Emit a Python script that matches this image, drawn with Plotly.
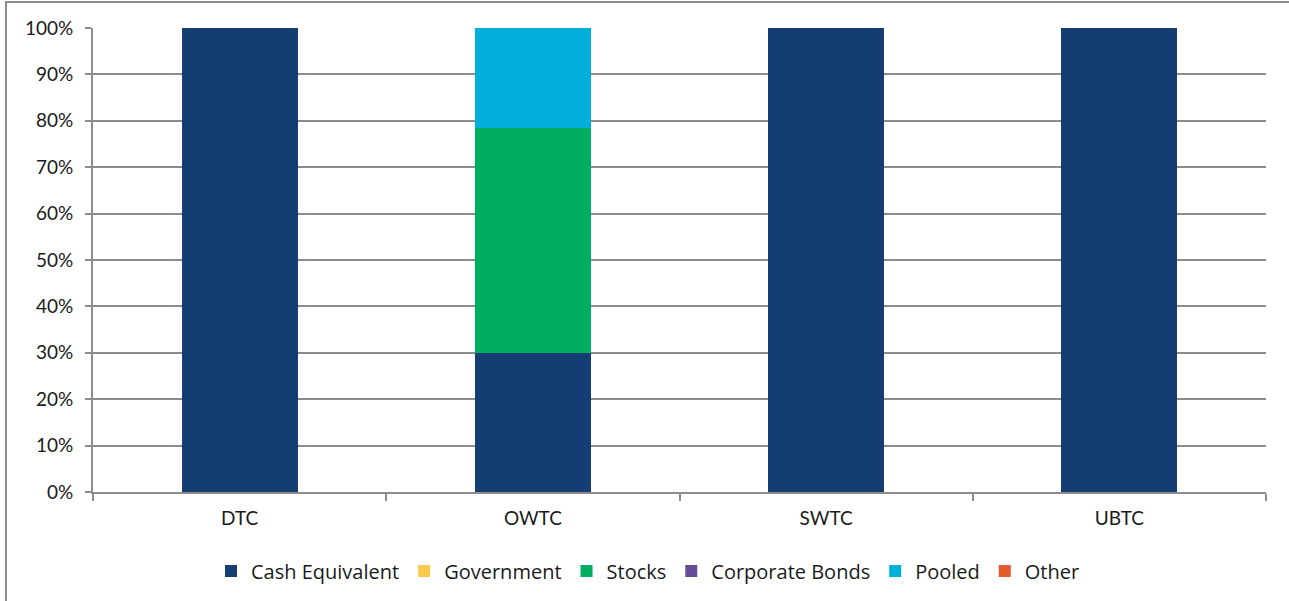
import plotly.graph_objects as go

categories = ["DTC", "OWTC", "SWTC", "UBTC"]
series_names = ["Cash Equivalent", "Government", "Stocks", "Corporate Bonds", "Pooled", "Other"]
cash_equivalent = [1.0, 0.30, 1.0, 1.0]
government = [0, 0, 0, 0]
stocks = [0, 0.484, 0, 0]
corporate_bonds = [0, 0, 0, 0]
pooled = [0, 0.216, 0, 0]
other = [0, 0, 0, 0]
y_ticks = [0, 0.1, 0.2, 0.3, 0.4, 0.5, 0.6, 0.7, 0.8, 0.9, 1.0]

colors = ["#133D73", "#FBC94E", "#00AE62", "#674C97", "#00B0DB", "#E35A2B"]
values = [cash_equivalent, government, stocks, corporate_bonds, pooled, other]

fig = go.Figure()
for name, vals, col in zip(series_names, values, colors):
    fig.add_trace(go.Bar(x=categories, y=vals, name=name, marker=dict(color=col, line=dict(width=0))))

W, H = 1289, 601
L, R, T, B = 93, 23, 28, 109
fig.update_layout(
    width=W, height=H,
    barmode="stack",
    bargap=0.605,
    margin=dict(l=L, r=R, t=T, b=B, autoexpand=False),
    paper_bgcolor="white", plot_bgcolor="white",
    font=dict(family="Lato, Carlito, sans-serif", size=19, color="#1a1a1a"),
    showlegend=True,
    legend=dict(orientation="h", x=648 / W, xref="container", xanchor="center",
                y=(H - 571) / H, yref="container", yanchor="middle",
                font=dict(family="Open Sans, sans-serif", size=20), traceorder="normal"),
    xaxis=dict(showline=True, linecolor="#8C8C8C", linewidth=2,
               ticks="outside", tickson="boundaries", ticklen=7, tickcolor="#8C8C8C", tickwidth=2,
               showgrid=False, ticklabelstandoff=8, fixedrange=True),
    yaxis=dict(range=[0, 1.0], tickvals=y_ticks, tickformat=".0%",
               showline=True, linecolor="#8C8C8C", linewidth=2,
               ticks="outside", ticklen=6, tickcolor="#8C8C8C", tickwidth=2,
               showgrid=True, gridcolor="#8C8C8C", gridwidth=2, zeroline=False,
               ticklabelstandoff=8, fixedrange=True),
)
# outer chart border
pw = W - L - R
ph = H - T - B
fig.add_shape(type="rect", xref="paper", yref="paper",
              x0=(6 - L) / pw, x1=(W + 20 - L) / pw,
              y0=-(H + 20 - T - ph) / ph, y1=1 + (T - 2) / ph,
              line=dict(color="#8C8C8C", width=2), fillcolor="rgba(0,0,0,0)", layer="below")
fig.write_html("out.html", config={"displayModeBar": False},
               post_script="document.body.style.margin='0';")
